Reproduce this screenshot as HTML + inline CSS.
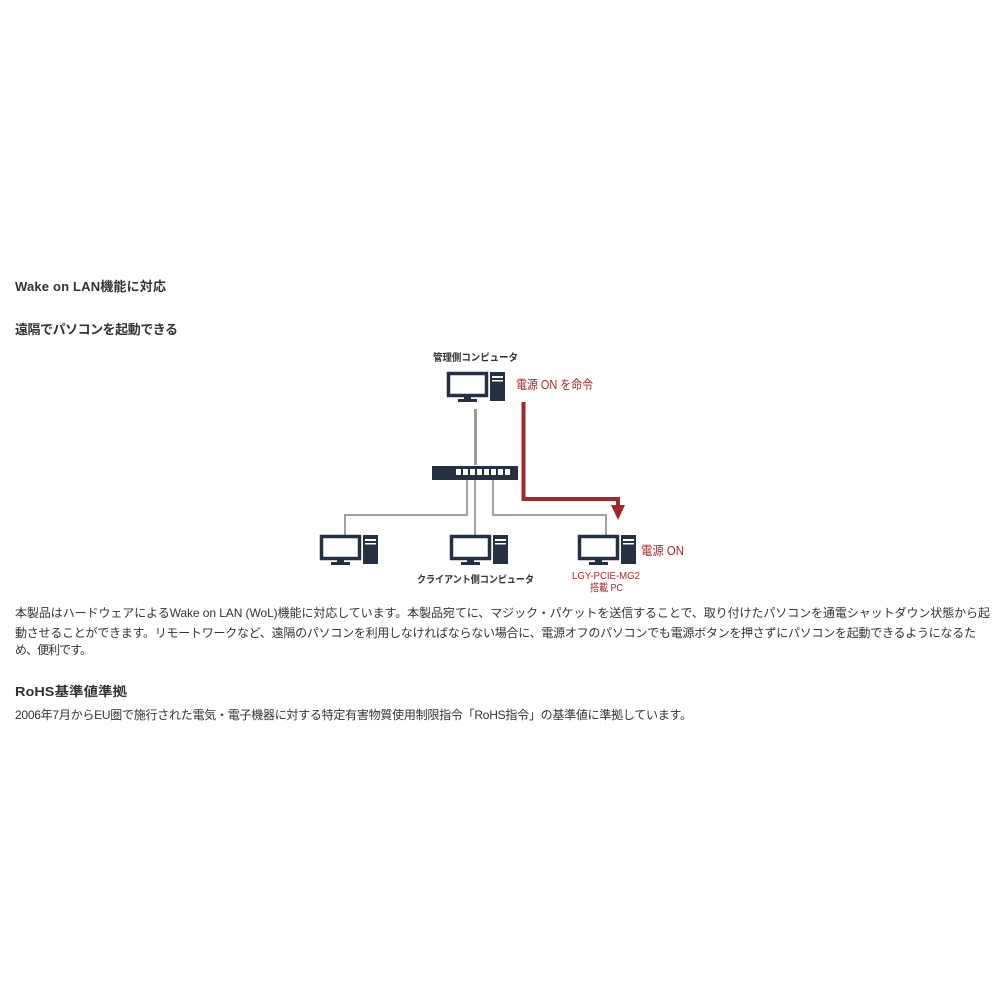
<!DOCTYPE html>
<html><head><meta charset="utf-8"><style>
body{margin:0;background:#fff;width:1000px;height:1000px;overflow:hidden}
svg{display:block}
text{font-family:"Liberation Sans","Noto Sans CJK JP",sans-serif;fill:#333}
</style></head><body>
<svg width="1000" height="1000" viewBox="0 0 1000 1000">
<defs>
<g id="pc">
 <rect x="1.5" y="1.5" width="38" height="22" fill="#fff" stroke="#263043" stroke-width="3.5"/>
 <rect x="17" y="24" width="7" height="4" fill="#263043"/>
 <rect x="11" y="27" width="19" height="3" fill="#263043"/>
 <rect x="43" y="0" width="15" height="29" fill="#263043"/>
 <rect x="45" y="4" width="11" height="2" fill="#fff"/>
 <rect x="45" y="8" width="11" height="1.5" fill="#fff"/>
</g>
</defs>
<text x="15" y="291" font-size="13" font-weight="bold" textLength="151">Wake on LAN機能に対応</text>
<text x="15" y="334" font-size="13" font-weight="bold" textLength="163">遠隔でパソコンを起動できる</text>

<text x="433" y="361" font-size="10" font-weight="bold" fill="#222" textLength="85" lengthAdjust="spacingAndGlyphs">管理側コンピュータ</text>
<use href="#pc" x="447" y="372"/>
<text x="516" y="389" font-size="12.5" style="fill:#a3282c" textLength="77" lengthAdjust="spacingAndGlyphs">電源 ON を命令</text>

<rect x="474" y="409" width="3" height="56" fill="#9a9a9a"/>
<g stroke="#a0a0a0" stroke-width="2" fill="none">
<polyline points="467,480 467,515 345,515 345,535"/>
<polyline points="475,480 475,535"/>
<polyline points="493,480 493,515 606,515 606,535"/>
</g>
<rect x="432" y="466" width="86" height="14" fill="#263043"/>
<g fill="#fff">
<rect x="456" y="469" width="5" height="6"/><rect x="463" y="469" width="5" height="6"/><rect x="470" y="469" width="5" height="6"/><rect x="477" y="469" width="5" height="6"/><rect x="484" y="469" width="5" height="6"/><rect x="491" y="469" width="5" height="6"/><rect x="498" y="469" width="5" height="6"/><rect x="505" y="469" width="5" height="6"/>
</g>
<polyline points="523.5,402 523.5,499 618,499 618,506" fill="none" stroke="#a3282c" stroke-width="4"/>
<polygon points="611,505 625,505 618,520" fill="#a3282c"/>

<use href="#pc" x="320" y="535"/>
<use href="#pc" x="450" y="535"/>
<use href="#pc" x="578" y="535"/>
<text x="417" y="583" font-size="10" font-weight="bold" fill="#222" textLength="117" lengthAdjust="spacingAndGlyphs">クライアント側コンピュータ</text>
<text x="641" y="555" font-size="12.5" style="fill:#a3282c" textLength="43" lengthAdjust="spacingAndGlyphs">電源 ON</text>
<text x="572" y="579" font-size="10.5" style="fill:#a3282c" textLength="68" lengthAdjust="spacingAndGlyphs">LGY-PCIE-MG2</text>
<text x="590" y="591" font-size="10.5" style="fill:#a3282c" textLength="33" lengthAdjust="spacingAndGlyphs">搭載 PC</text>

<text x="15" y="617" font-size="12" textLength="975">本製品はハードウェアによるWake on LAN (WoL)機能に対応しています。本製品宛てに、マジック・パケットを送信することで、取り付けたパソコンを通電シャットダウン状態から起</text>
<text x="15" y="637" font-size="12" textLength="961">動させることができます。リモートワークなど、遠隔のパソコンを利用しなければならない場合に、電源オフのパソコンでも電源ボタンを押さずにパソコンを起動できるようになるた</text>
<text x="15" y="654" font-size="12" textLength="77">め、便利です。</text>
<text x="15" y="696" font-size="13" font-weight="bold" textLength="112" lengthAdjust="spacingAndGlyphs">RoHS基準値準拠</text>
<text x="15" y="719" font-size="12" textLength="677">2006年7月からEU圏で施行された電気・電子機器に対する特定有害物質使用制限指令「RoHS指令」の基準値に準拠しています。</text>
</svg>
</body></html>
